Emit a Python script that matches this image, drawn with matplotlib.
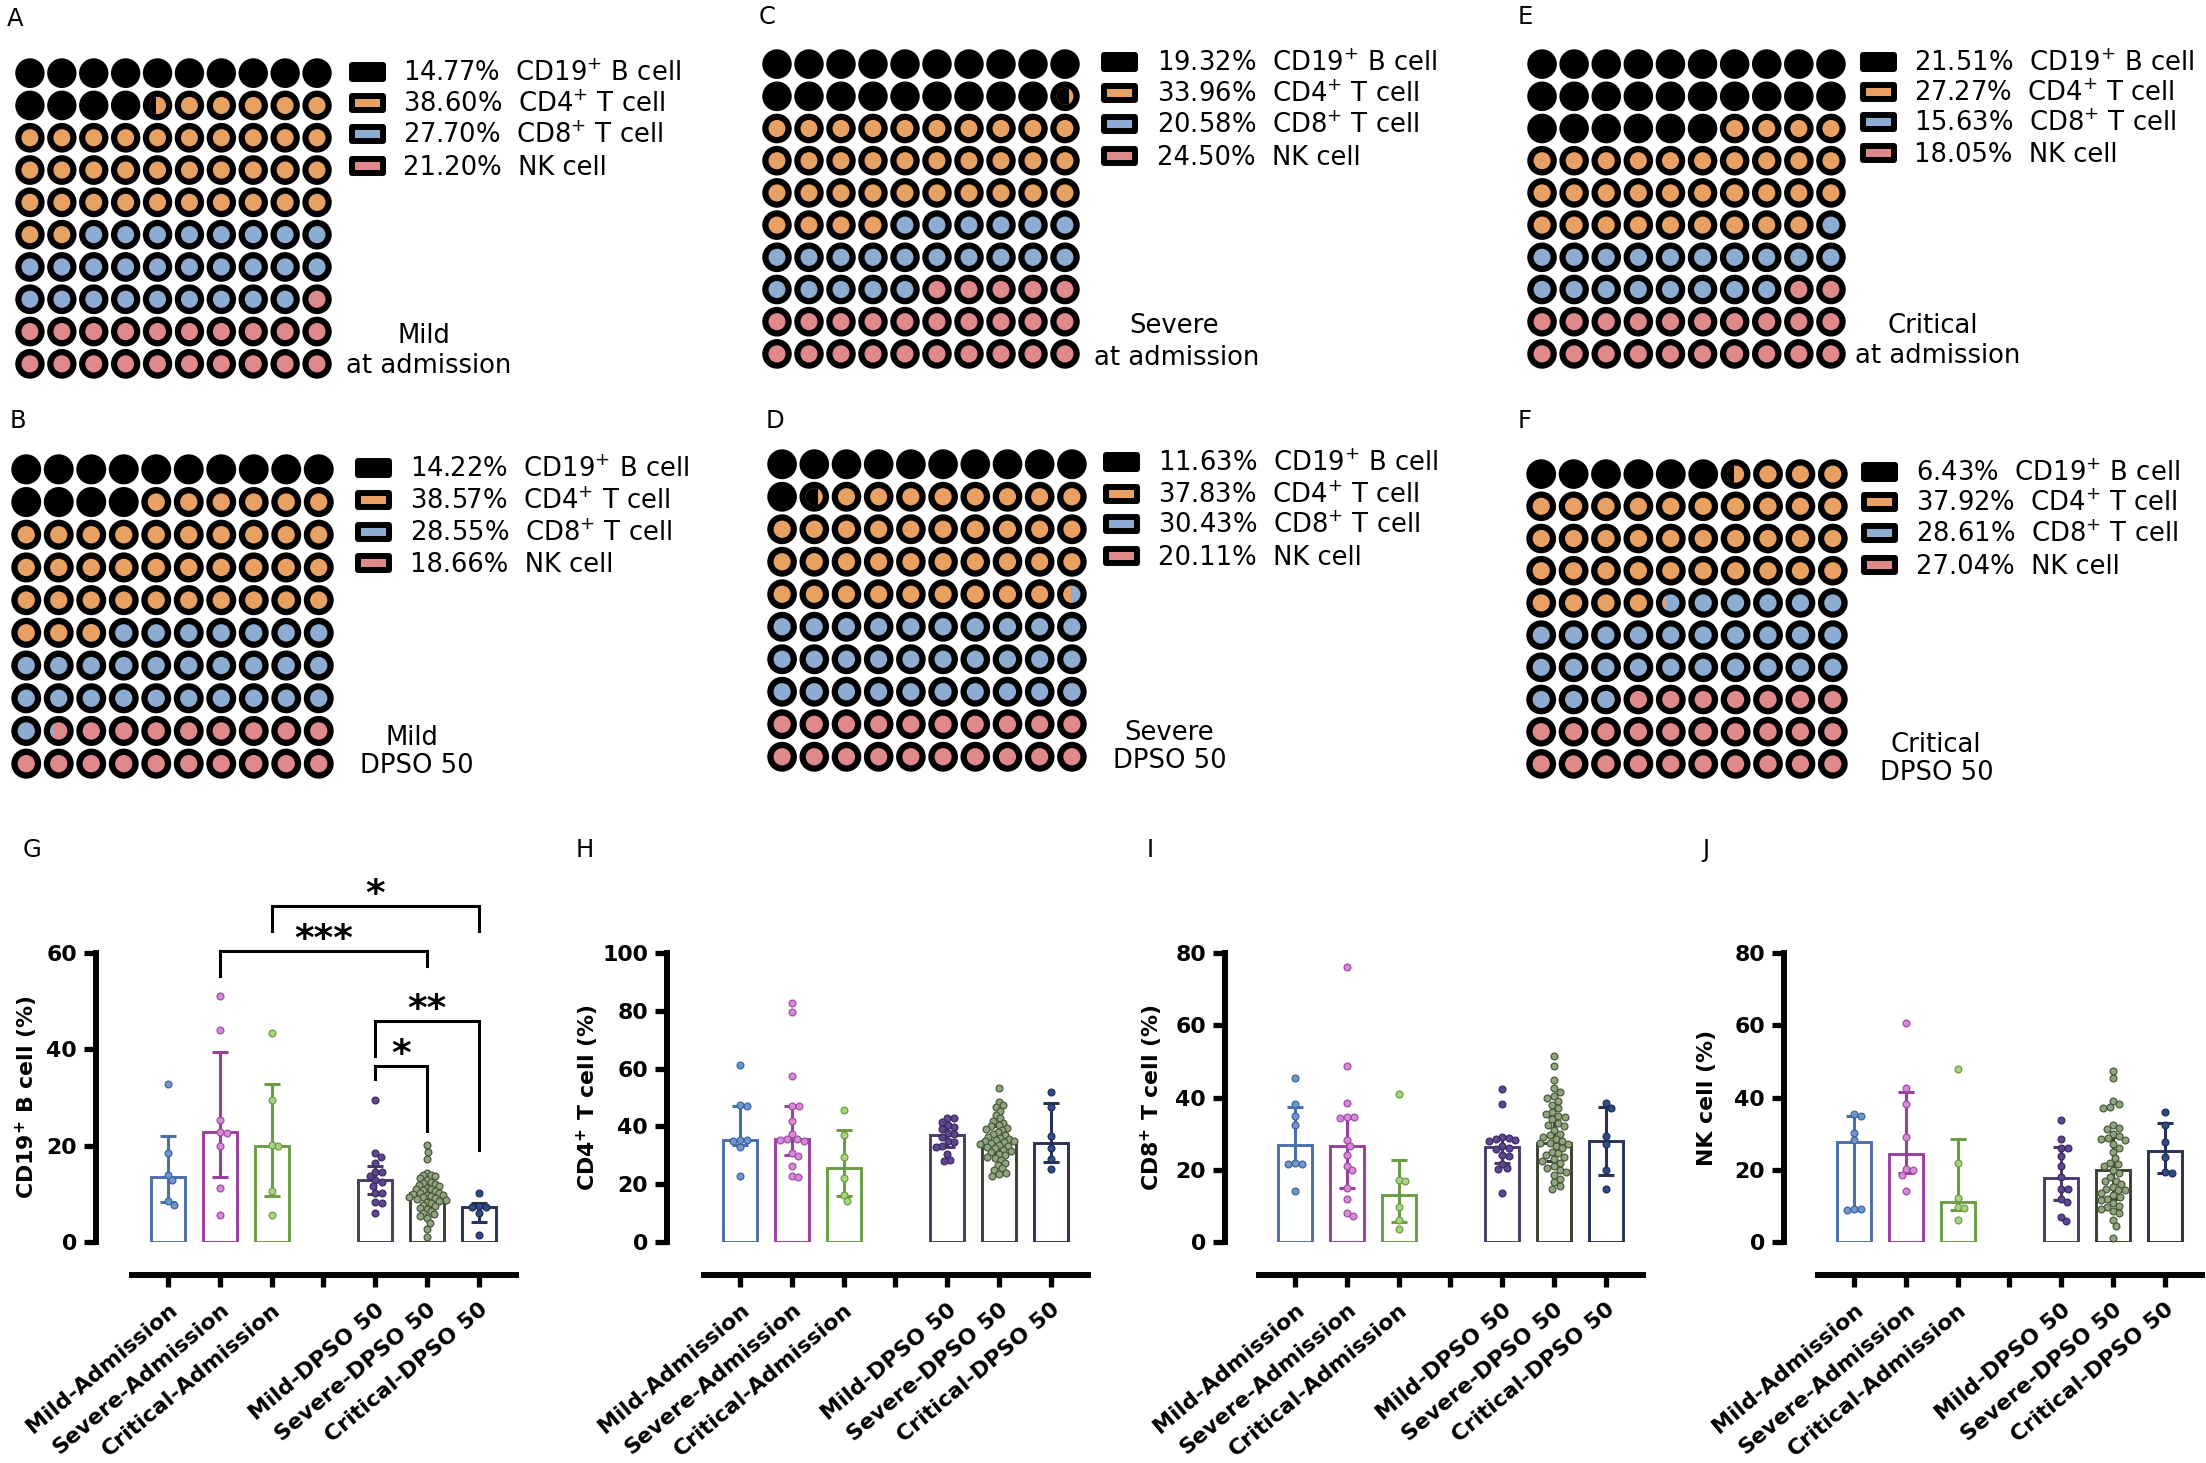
import numpy as np
import matplotlib
matplotlib.use('Agg')
import matplotlib.pyplot as plt
from matplotlib.patches import Ellipse, Rectangle

# ---------------- data ----------------
cell_types = ['CD19$^{+}$ B cell', 'CD4$^{+}$ T cell', 'CD8$^{+}$ T cell', 'NK cell']
waffle_colors = ['#000000', '#E9A163', '#8DACD1', '#E0898B']

pct_mild_adm = [14.77, 38.60, 27.70, 21.20]
pct_mild_dpso = [14.22, 38.57, 28.55, 18.66]
pct_severe_adm = [19.32, 33.96, 20.58, 24.50]
pct_severe_dpso = [11.63, 37.83, 30.43, 20.11]
pct_critical_adm = [21.51, 27.27, 15.63, 18.05]
pct_critical_dpso = [6.43, 37.92, 28.61, 27.04]

groups = ['Mild-Admission', 'Severe-Admission', 'Critical-Admission',
          'Mild-DPSO 50', 'Severe-DPSO 50', 'Critical-DPSO 50']
group_pos = [0, 1, 2, 4, 5, 6]
bar_colors = ['#4A70AA', '#9B3D9F', '#6B9D44', '#4A3B68', '#3B4032', '#283354']
dot_face = ['#6F96CE', '#D68AD7', '#A9D47F', '#5E4690', '#8FA580', '#2E4C86']
dot_edge = ['#3E65A0', '#A04EA5', '#6C9C44', '#3D2B63', '#4B593D', '#1E2D56']

# CD19+ B cell (%)
b_med = [13.4, 22.8, 20.0, 12.9, 10.1, 7.3]
b_q1 = [8.3, 13.4, 9.5, 10.0, 7.5, 4.1]
b_q3 = [22.1, 39.4, 32.9, 15.8, 12.8, 8.1]
b_pts = [
    [32.9, 18.5, 14.0, 12.8, 8.5, 7.7],
    [51.1, 44.0, 25.3, 22.9, 22.7, 20.0, 11.2, 5.7],
    [43.4, 29.4, 20.1, 19.9, 10.6, 5.7],
    [29.5, 18.4, 17.6, 16.3, 14.6, 14.5, 13.8, 12.9, 12.5, 11.6, 10.2, 10.1, 8.3, 8.2, 6.0],
    [20.1, 18.7, 17.2, 14.3, 14.0, 13.9, 13.6, 13.2, 12.8, 12.5, 12.2, 12.0, 11.8, 11.6, 11.3,
     11.0, 10.9, 10.7, 10.5, 10.2, 10.1, 10.0, 9.8, 9.7, 9.6, 9.4, 9.3, 9.1, 9.0, 8.8, 8.6,
     8.3, 8.0, 7.7, 7.4, 7.1, 6.8, 6.5, 6.1, 5.8, 5.5, 5.0, 4.0, 2.8, 1.0],
    [10.2, 7.5, 7.3, 7.2, 6.0, 1.5],
]

# CD4+ T cell (%)
cd4_med = [35.2, 35.5, 25.5, 36.9, 34.8, 34.3]
cd4_q1 = [33.5, 30.0, 15.8, 33.0, 30.8, 27.8]
cd4_q3 = [47.1, 47.1, 38.7, 40.6, 40.0, 48.2]
cd4_pts = [
    [61.4, 47.3, 47.0, 35.4, 35.2, 35.0, 33.0, 22.7],
    [82.7, 79.7, 57.6, 47.2, 47.0, 41.8, 37.2, 35.7, 35.5, 35.3, 35.0, 30.8, 29.8, 26.2, 23.0, 22.5],
    [45.7, 36.9, 29.5, 22.0, 16.3, 14.2],
    [43.0, 42.8, 41.6, 40.4, 39.8, 39.0, 37.6, 37.3, 36.2, 34.8, 34.5, 33.3, 33.0, 30.5, 28.4, 28.0],
    [53.2, 48.5, 47.5, 46.8, 45.5, 44.0, 43.0, 42.0, 41.2, 40.5, 40.0, 39.5, 39.0, 38.8, 38.0,
     37.5, 37.0, 36.5, 36.0, 35.6, 35.2, 35.0, 34.8, 34.5, 34.2, 34.0, 33.6, 33.2, 32.8, 32.4,
     32.0, 31.5, 31.0, 30.5, 30.0, 29.5, 29.0, 28.3, 27.5, 26.5, 25.5, 24.8, 24.0, 23.5, 22.8],
    [51.8, 46.8, 36.6, 32.6, 28.7, 25.1],
]

# CD8+ T cell (%)
cd8_med = [26.8, 26.6, 13.0, 26.3, 27.3, 27.9]
cd8_q1 = [21.7, 15.0, 5.6, 22.0, 22.5, 18.5]
cd8_q3 = [37.3, 34.6, 22.8, 28.7, 35.0, 37.3]
cd8_pts = [
    [45.5, 38.2, 34.8, 32.5, 21.8, 21.7, 21.6, 14.1],
    [76.0, 48.6, 38.4, 34.6, 34.5, 34.4, 28.2, 26.6, 24.0, 20.9, 19.8, 15.0, 11.9, 8.1, 7.3],
    [40.9, 17.1, 16.9, 9.7, 6.2, 3.7],
    [42.4, 38.2, 29.0, 28.9, 28.5, 28.2, 28.0, 26.5, 26.0, 25.8, 24.2, 23.8, 21.7, 20.5, 20.2, 13.6],
    [51.5, 48.7, 44.8, 42.5, 41.5, 40.5, 40.0, 39.0, 38.0, 37.0, 36.0, 35.5, 35.0, 34.5, 34.0,
     33.0, 32.5, 32.0, 31.0, 30.0, 29.5, 29.0, 28.5, 28.0, 27.5, 27.3, 27.0, 26.5, 26.0, 25.0,
     24.5, 24.0, 23.5, 23.0, 22.5, 22.0, 21.0, 20.5, 20.0, 19.5, 18.5, 17.5, 16.5, 15.5, 14.7],
    [38.4, 37.1, 29.4, 27.1, 19.8, 14.7],
]

# NK cell (%)
nk_med = [27.7, 24.3, 11.0, 17.7, 19.8, 25.1]
nk_q1 = [9.0, 19.0, 8.8, 11.5, 11.8, 19.2]
nk_q3 = [35.0, 41.6, 28.5, 26.2, 29.0, 33.0]
nk_pts = [
    [35.5, 35.0, 30.2, 28.2, 9.1, 9.0, 8.9],
    [60.5, 42.7, 38.2, 29.0, 20.2, 20.0, 18.6, 14.1],
    [47.9, 22.0, 12.2, 9.7, 9.5, 6.2],
    [33.9, 28.5, 26.0, 25.9, 23.7, 20.9, 18.1, 14.7, 14.6, 11.9, 11.1, 7.0, 5.7],
    [47.3, 45.3, 39.0, 38.2, 37.3, 37.0, 32.3, 31.5, 31.2, 30.0, 29.4, 28.8, 28.5, 28.2, 27.1,
     26.0, 25.0, 23.2, 22.0, 21.5, 20.9, 19.8, 19.2, 18.1, 17.0, 16.8, 16.0, 15.3, 14.7, 14.5,
     14.3, 13.5, 13.0, 12.5, 11.9, 11.6, 10.7, 9.9, 9.6, 9.0, 8.5, 7.9, 6.2, 4.5, 1.1],
    [35.9, 32.5, 27.7, 23.5, 19.3, 19.1],
]

# significance brackets for CD19+ B cell: (group index a, group index b, label)
b_sig = [(2, 5, '*'), (1, 4, '***'), (3, 5, '**'), (3, 4, '*')]

# ---------------- figure ----------------
W, H = 2206, 1463
fig = plt.figure(figsize=(W / 100, H / 100), dpi=100)


def add_ax(x0, y0, x1, y1):
    return fig.add_axes([x0 / W, 1 - y1 / H, (x1 - x0) / W, (y1 - y0) / H])


def ftext(x, y, s, **kw):
    fig.text(x / W, 1 - y / H, s, **kw)


def waffle(ax, pcts):
    total = sum(pcts)
    bounds = np.cumsum([0] + [p * 100 / total for p in pcts])
    D, d = 0.92, 0.53
    for k in range(100):
        r, c = divmod(k, 10)
        cx, cy = c + 0.5, r + 0.5
        parts = []
        for j in range(4):
            lo = max(bounds[j], k)
            hi = min(bounds[j + 1], k + 1)
            if hi - lo > 1e-6:
                parts.append((j, hi - lo))
        ax.add_patch(Ellipse((cx, cy), D, D, fc='black', ec='none'))
        if len(parts) == 1 and parts[0][0] == 0:
            continue
        inner = Ellipse((cx, cy), d, d, fc=waffle_colors[parts[-1][0]], ec='none')
        ax.add_patch(inner)
        if len(parts) >= 2:
            split = cx - D / 2 + parts[0][1] * D
            rect = Rectangle((cx - 0.5, r), split - (cx - 0.5), 1,
                             fc=waffle_colors[parts[0][0]], ec='none')
            ax.add_patch(rect)
            rect.set_clip_path(inner)
    ax.set_xlim(0, 10)
    ax.set_ylim(10, 0)
    ax.axis('off')


# letter, letter pos, waffle box, legend box x, text x, legend rows, label lines
waffle_layout = [
    ('A', (7, 26), (14, 57, 333, 380), 349, 403, [72, 103, 134, 166],
     [('Mild', 424, 343), ('at admission', 429, 373)], pct_mild_adm),
    ('B', (10, 428), (10, 453, 335, 780), 355, 410, [468, 500, 532, 563],
     [('Mild', 412, 745), ('DPSO 50', 417, 773)], pct_mild_dpso),
    ('C', (759, 24), (761, 48, 1081, 370), 1101, 1157, [62, 93, 124, 156],
     [('Severe', 1174, 333), ('at admission', 1177, 365)], pct_severe_adm),
    ('D', (766, 428), (766, 448, 1088, 773), 1103, 1158, [462, 494, 524, 556],
     [('Severe', 1169, 740), ('DPSO 50', 1170, 768)], pct_severe_dpso),
    ('E', (1518, 24), (1526, 48, 1847, 370), 1860, 1914, [62, 92, 122, 153],
     [('Critical', 1933, 333), ('at admission', 1938, 363)], pct_critical_adm),
    ('F', (1518, 428), (1525, 458, 1849, 780), 1861, 1916, [472, 502, 533, 565],
     [('Critical', 1936, 752), ('DPSO 50', 1937, 780)], pct_critical_dpso),
]

for letter, lpos, box, bx, tx, rows, labels, pcts in waffle_layout:
    ftext(lpos[0], lpos[1], letter, fontsize=17.5, va='baseline', ha='left')
    ax = add_ax(*box)
    waffle(ax, pcts)
    for j, yc in enumerate(rows):
        fig.add_artist(Rectangle(((bx + 3) / W, 1 - (yc + 7) / H), 31 / W, 14 / H,
                                 transform=fig.transFigure, fc=waffle_colors[j],
                                 ec='black', lw=4.3, joinstyle='round'))
        ftext(tx, yc + 9, '%.2f%%  %s' % (pcts[j], cell_types[j]),
              fontsize=18.6, va='baseline', ha='left')
    for s, x, y in labels:
        ftext(x, y, s, fontsize=18.6, va='baseline', ha='center')


# ---------------- bar panels ----------------
PITCH = 51.8
Y0, Y1 = 953, 1242


def swarm(vals, ypx, d=6.8, limit=0.36):
    order = np.argsort(vals)[::-1]
    placed = []
    xs = np.zeros(len(vals))
    for i in order:
        y = vals[i] * ypx
        cands = [0.0]
        for px, py in placed:
            dy = abs(y - py)
            if dy < d:
                dx = np.sqrt(d * d - dy * dy)
                cands += [px + dx, px - dx]
        best = None
        for cnd in sorted(cands, key=abs):
            ok = all((cnd - px) ** 2 + (y - py) ** 2 >= d * d - 1e-6 for px, py in placed)
            if ok:
                best = cnd
                break
        xs[i] = best
        placed.append((best, y))
    xs = xs / PITCH
    m = np.abs(xs).max()
    if m > limit:
        xs = xs * limit / m
    return xs


def bar_panel(letter, lx, spine_px, tick0_px, ylab_dx, ymax, yticks, ylabel,
              med, q1, q3, pts):
    ftext(lx, 857, letter, fontsize=17.5, va='baseline', ha='left')
    width_px = 8.3 * PITCH
    ax = add_ax(spine_px, Y0, spine_px + width_px, Y1)
    xl = (spine_px - tick0_px) / PITCH
    ax.set_xlim(xl, xl + width_px / PITCH)
    ax.set_ylim(0, ymax)
    ypx = (Y1 - Y0) / ymax
    for i, g in enumerate(group_pos):
        ax.bar(g, med[i], width=0.66, facecolor='white', edgecolor=bar_colors[i],
               linewidth=2.1, zorder=1)
        ax.errorbar(g, med[i], yerr=[[med[i] - q1[i]], [q3[i] - med[i]]], fmt='none',
                    ecolor=bar_colors[i], elinewidth=2.2, capsize=5.8, capthick=2.2, zorder=2)
        v = np.array(pts[i])
        ax.scatter(g + swarm(v, ypx), v, s=24, c=dot_face[i], edgecolors=dot_edge[i],
                   linewidths=0.9, zorder=3, clip_on=False)
    for sp in ['top', 'right']:
        ax.spines[sp].set_visible(False)
    ax.spines['left'].set_linewidth(4.3)
    ax.spines['left'].set_bounds(0, ymax)
    ax.spines['bottom'].set_linewidth(4.3)
    ax.spines['bottom'].set_position(('outward', 23.8))
    ax.spines['bottom'].set_bounds(-0.7, 6.72)
    ax.set_yticks(yticks)
    ax.set_yticklabels([str(t) for t in yticks], fontsize=15.8, fontweight='bold')
    ax.tick_params(axis='y', direction='out', length=8.6, width=3.8, pad=5)
    ax.set_xticks(range(7))
    ax.set_xticklabels(groups[:3] + [''] + groups[3:], rotation=40, ha='right', va='top',
                       rotation_mode='anchor', fontsize=15.8, fontweight='bold')
    ax.tick_params(axis='x', direction='out', length=8.6, width=3.8, pad=9)
    ax.text(ylab_dx / width_px, 0.5, ylabel, transform=ax.transAxes, rotation=90,
            ha='center', va='center', fontsize=15.8, fontweight='bold')
    return ax


axg = bar_panel('G', 23, 96, 168, -69, 60, [0, 20, 40, 60],
                r'CD19$^{\mathbf{+}}$ B cell (%)', b_med, b_q1, b_q3, b_pts)
bar_panel('H', 576, 667, 740, -79, 100, [0, 20, 40, 60, 80, 100],
          r'CD4$^{\mathbf{+}}$ T cell (%)', cd4_med, cd4_q1, cd4_q3, cd4_pts)
bar_panel('I', 1147, 1225, 1295, -73, 80, [0, 20, 40, 60, 80],
          r'CD8$^{\mathbf{+}}$ T cell (%)', cd8_med, cd8_q1, cd8_q3, cd8_pts)
bar_panel('J', 1702, 1784, 1854, -77, 80, [0, 20, 40, 60, 80],
          'NK cell (%)', nk_med, nk_q1, nk_q3, nk_pts)

# brackets: line height, left leg end, right leg end
bracket_geom = [(69.7, 64.5, 64.5), (60.4, 55.2, 57.4), (45.9, 38.6, 19.1), (36.5, 33.8, 23.0)]
for (a, b, lab), (yl, ya, yb) in zip(b_sig, bracket_geom):
    xa, xb = group_pos[a], group_pos[b]
    axg.plot([xa, xa, xb, xb], [ya, yl, yl, yb], color='black', lw=2.2,
             clip_on=False, solid_joinstyle='miter')
    axg.annotate(lab, xy=((xa + xb) / 2, yl), xytext=(0, 1), textcoords='offset points',
                 ha='center', va='baseline', fontsize=27, fontweight='bold',
                 annotation_clip=False)

fig.savefig('out.png', dpi=100)
